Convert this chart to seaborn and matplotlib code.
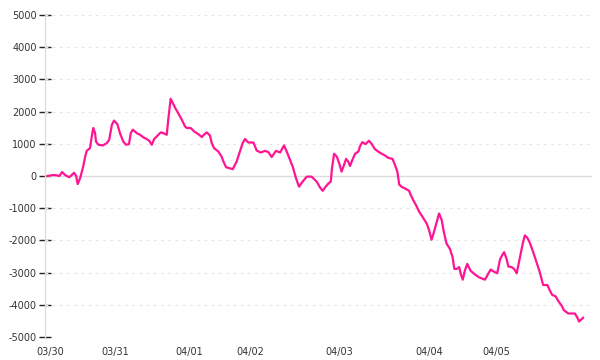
import matplotlib
matplotlib.use("Agg")
import matplotlib.pyplot as plt
import seaborn as sns
import pandas as pd

# time position (in sample steps) and value
t = [0, 2.1, 3.2, 4.1, 5.0, 6.0, 7.4, 9.0, 9.7, 10.2, 11.0, 11.9, 12.7, 13.2, 14.3, 14.9, 15.4, 16.0, 16.3, 17.1,
     18.6, 19.9, 20.7, 21.6, 22.3, 23.4, 24.3, 25.4, 26.3, 27.3, 27.9, 28.6, 29.9, 31.0, 32.1, 33.2, 34.1, 34.9,
     35.7, 36.8, 37.9, 38.8, 39.9, 40.4, 41.2, 41.9, 42.7, 43.8, 44.9, 46.0, 46.6, 47.9, 49.0, 50.4, 51.6, 52.3,
     53.2, 54.3, 54.9, 55.7, 57.1, 58.2, 58.8, 59.7, 61.0, 61.9, 63.2, 64.3, 65.2, 66.0, 67.1, 68.8, 69.9, 71.2,
     72.7, 73.8, 74.9, 76.3, 77.7, 79.0, 79.9, 81.0, 81.9, 83.0, 84.0, 85.2, 86.6, 88.2, 89.9, 91.0, 91.9, 92.7,
     93.8, 94.6, 95.0, 95.7, 96.6, 97.4, 98.2, 99.0, 99.7, 100.4, 101.0, 101.8, 102.7, 103.8, 104.3, 105.1,
     106.2, 107.3, 108.2, 109.3, 110.4, 111.6, 112.7, 113.6, 114.3, 115.2, 116.0, 116.8, 117.4, 118.2, 119.3,
     120.7, 121.3, 122.1, 123.2, 124.1, 125.2, 126.6, 127.4, 128.2, 129.0, 129.9, 130.7, 131.6, 132.3, 133.2,
     134.3, 135.2, 135.8, 136.6, 137.4, 138.0, 138.6, 139.3, 140.1, 141.2, 142.7, 144.1, 146.0, 147.1, 147.9,
     148.8, 150.1, 151.0, 151.8, 152.4, 153.2, 153.8, 154.9, 155.7, 156.6, 157.7, 158.6, 159.3, 160.1, 161.0,
     162.1, 163.2, 164.3, 165.4, 166.8, 167.7, 168.4, 169.6, 170.4, 171.6, 172.3, 173.8, 176.0, 176.8, 177.4,
     178.8]
values = [0, 30, 20, 0, 125, 30, -40, 100, 0, -250, -70, 240, 600, 780, 865, 1230, 1490, 1330, 1070, 970,
          950, 1020, 1125, 1590, 1720, 1615, 1330, 1070, 970, 990, 1330, 1440, 1330, 1280, 1200, 1150, 1090, 970,
          1150, 1250, 1355, 1330, 1280, 1750, 2400, 2270, 2115, 1940, 1750, 1540, 1490, 1490, 1385, 1300, 1210, 1280,
          1355, 1260, 1020, 865, 760, 600, 450, 270, 240, 210, 450, 760, 1020, 1150, 1040, 1040, 790, 730,
          780, 740, 590, 780, 730, 950, 760, 500, 290, -70, -330, -175, -20, -20, -175, -355, -460, -355,
          -230, -175, 240, 690, 600, 395, 135, 340, 530, 450, 310, 500, 690, 760, 915, 1050,
          990, 1095, 1000, 835, 760, 690, 635, 570, 550, 530, 340, 135, -260, -335, -385,
          -460, -600, -750, -940, -1115, -1270, -1480, -1690, -1980, -1740, -1430, -1165, -1375, -1740, -2100,
          -2260, -2520, -2885, -2885, -2830, -3060, -3220, -2940, -2730, -2940, -3060, -3150, -3220, -3040, -2905,
          -2960, -3020, -2600, -2450, -2365, -2570, -2810, -2830, -2885, -3020, -2520, -2100, -1845, -1915, -2080,
          -2365, -2675, -2990, -3385, -3385, -3565, -3690, -3740, -3875, -4030, -4165, -4270, -4270, -4395, -4520,
          -4395]

tick_pos = [1, 22.8, 47.4, 67.9, 97.3, 127.3, 149.8]
tick_labels = ["03/30", "03/31", "04/01", "04/02", "04/03", "04/04", "04/05"]
y_ticks = [-5000, -4000, -3000, -2000, -1000, 0, 1000, 2000, 3000, 4000, 5000]

df = pd.DataFrame({"t": t, "v": values})

sns.set_style("white")
plt.rcParams["font.family"] = ["DejaVu Sans"]

fig = plt.figure(figsize=(6, 3.6), dpi=100)
ax = fig.add_axes([45 / 600, (360 - 337) / 360, (592 - 45) / 600, (337 - 15) / 360])

for yv in y_ticks:
    if yv == 0:
        ax.axhline(yv, color="#dcdcdc", lw=1.0, zorder=1)
    else:
        ax.axhline(yv, color="#e6e6e6", lw=0.8, linestyle=(0, (2.5, 4)), zorder=1)

sns.lineplot(data=df, x="t", y="v", sort=False, estimator=None, color="#ff1493", lw=1.6, ax=ax, zorder=3)

ax.set_xlim(-0.7, 181.7)
ax.set_ylim(-5000, 5000)
ax.set_yticks(y_ticks)
ax.set_yticklabels([str(v) for v in y_ticks])
ax.set_xticks(tick_pos)
ax.set_xticklabels(tick_labels)
ax.set_xlabel("")
ax.set_ylabel("")

for s in ["top", "right", "bottom"]:
    ax.spines[s].set_visible(False)
ax.spines["left"].set_color("#dcdcdc")
ax.spines["left"].set_linewidth(1.0)

ax.tick_params(axis="y", left=True, direction="inout", length=8, width=1, color="#222222",
               labelsize=7, labelcolor="#333333", pad=2)
ax.tick_params(axis="x", bottom=False, length=0, labelsize=7, labelcolor="#333333", pad=7)

fig.savefig("out.png", dpi=100)
